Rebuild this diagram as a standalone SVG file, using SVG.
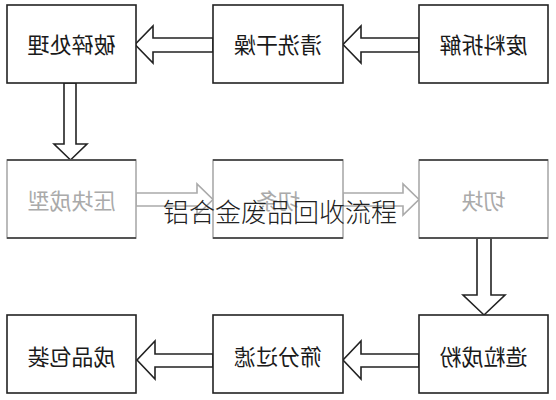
<svg xmlns="http://www.w3.org/2000/svg" width="556" height="400" viewBox="0 0 556 400">
<style>
.box{fill:#fff;stroke:#222;stroke-width:1.6}
.fbox{fill:#fff;stroke:#aaa;stroke-width:1.6}
.edge{stroke:#333;stroke-width:1.6}
.lbl{font-family:"Noto Sans CJK SC","Noto Sans",sans-serif;font-size:22px;fill:#1a1a1a;text-anchor:middle;dominant-baseline:central}
.flbl{font-family:"Noto Sans CJK SC","Noto Sans",sans-serif;font-size:22px;fill:#aaa;text-anchor:middle;dominant-baseline:central}
.arr{fill:#fff;stroke:#222;stroke-width:1.6;stroke-linejoin:miter}
.farr{fill:#fff;stroke:#aaa;stroke-width:1.6}
.wm{font-family:"Noto Sans CJK SC","Noto Sans",sans-serif;font-size:26px;font-weight:300;fill:#222;text-anchor:middle}
</style>
<rect width="556" height="400" fill="#fff"/>
<g id="connectors">
<polygon class="arr" points="213,38 153,38 153,26 135,44.5 153,63 153,52 213,52"/>
<polygon class="arr" points="419,38 361,38 361,26 343,44.5 361,63 361,52 419,52"/>
<polygon class="arr" points="64,83 76,83 76,144 87,144 70.5,160 54,144 64,144"/>
<polygon class="farr" points="136,193 197,193 197,184 213,199.5 197,215 197,206 136,206"/>
<polygon class="farr" points="343,193 403,193 403,184 419,199.5 403,215 403,206 343,206"/>
<polygon class="arr" points="477,238 491,238 491,295 505,295 484,315 463,295 477,295"/>
<polygon class="arr" points="419,354 361,354 361,341 343,360 361,379 361,367 419,367"/>
<polygon class="arr" points="213,354 155,354 155,341 137,360 155,379 155,367 213,367"/>
</g>
<g id="n1"><rect class="box" x="7" y="5" width="129" height="78"/><text class="lbl" transform="scale(-1,1)" x="-71.5" y="43">破碎处理</text></g>
<g id="n2"><rect class="box" x="213" y="5" width="130" height="78"/><text class="lbl" transform="scale(-1,1)" x="-278" y="43">清洗干燥</text></g>
<g id="n3"><rect class="box" x="419" y="5" width="129" height="78"/><text class="lbl" transform="scale(-1,1)" x="-483.5" y="43">废料拆解</text></g>
<g id="n4"><rect class="fbox" x="7" y="160" width="129" height="78"/><line class="edge" x1="7" y1="160" x2="136" y2="160"/><line class="edge" x1="7" y1="238" x2="136" y2="238"/><text class="flbl" transform="scale(-1,1)" x="-71.5" y="199">压块成型</text></g>
<g id="n5"><rect class="fbox" x="213" y="160" width="130" height="78"/><line class="edge" x1="213" y1="160" x2="343" y2="160"/><line class="edge" x1="213" y1="238" x2="343" y2="238"/><text class="flbl" transform="scale(-1,1)" x="-278" y="199">切条</text></g>
<g id="n6"><rect class="fbox" x="419" y="160" width="129" height="78"/><line class="edge" x1="419" y1="160" x2="548" y2="160"/><line class="edge" x1="419" y1="238" x2="548" y2="238"/><text class="flbl" transform="scale(-1,1)" x="-483.5" y="199">切块</text></g>
<g id="n7"><rect class="box" x="7" y="315" width="129" height="78"/><text class="lbl" transform="scale(-1,1)" x="-71.5" y="355">成品包装</text></g>
<g id="n8"><rect class="box" x="213" y="315" width="130" height="78"/><text class="lbl" transform="scale(-1,1)" x="-278" y="355">筛分过滤</text></g>
<g id="n9"><rect class="box" x="419" y="315" width="129" height="78"/><text class="lbl" transform="scale(-1,1)" x="-483.5" y="355">造粒成粉</text></g>
<text class="wm" x="280" y="222">铝合金废品回收流程</text>
</svg>
